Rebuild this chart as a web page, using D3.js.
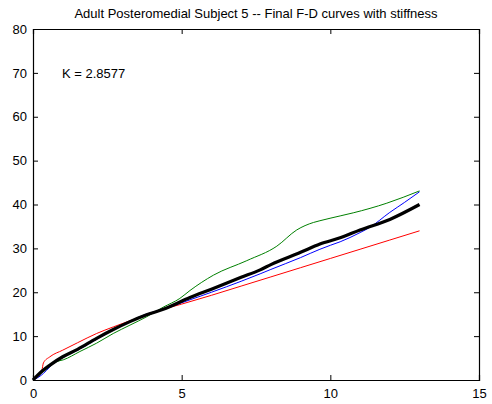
<!DOCTYPE html>
<html>
<head>
<meta charset="utf-8">
<script src="https://cdnjs.cloudflare.com/ajax/libs/d3/7.8.5/d3.min.js"></script>
<style>
  body { margin: 0; background: #fff; }
  text { font-family: "Liberation Sans", Arial, sans-serif; }
</style>
</head>
<body>
<svg id="chart"></svg>
<script>
// displacement / force readings
var redX   = [0, 0.3, 0.35, 0.57, 1.0, 1.5, 2.14, 2.7, 3.26, 3.8, 4.38, 5, 6, 7, 8, 9, 10, 11, 12, 13];
var redY   = [0, 2.3, 3.9, 5.3, 6.8, 8.5, 10.6, 12.1, 13.5, 14.8, 16.1, 17.3, 19.3, 21.4, 23.5, 25.6, 27.7, 29.8, 31.9, 34.0];

var blueX  = [0, 0.2, 0.35, 0.57, 0.8, 1.0, 1.5, 2.14, 3.26, 3.8, 4.38, 5, 6, 7, 7.64, 8, 9, 9.65, 10, 10.33, 11, 11.33, 12, 12.5, 13];
var blueY  = [0, 0.7, 1.5, 3.0, 4.6, 5.2, 6.8, 9.3, 13.4, 15.0, 16.1, 17.6, 20.0, 22.5, 24.2, 25.2, 27.9, 29.8, 30.7, 31.5, 33.6, 34.8, 38.2, 40.5, 42.9];

var greenX = [0, 0.35, 0.8, 1.02, 1.58, 2.14, 2.7, 3.26, 3.82, 4.38, 4.94, 5.28, 6.07, 7.19, 8.2, 8.87, 9.43, 9.65, 10.33, 10.77, 11.9, 13];
var greenY = [0, 1.9, 4.2, 4.6, 6.5, 8.4, 10.6, 12.5, 14.4, 16.6, 18.6, 20.4, 23.9, 27.2, 30.5, 34.2, 35.9, 36.3, 37.4, 38.1, 40.3, 43.1];

var blackX = [0, 0.3, 0.57, 1.0, 1.5, 2.14, 2.7, 3.26, 3.8, 4.38, 5.28, 6, 7, 7.64, 8, 9, 9.65, 10.33, 11, 12, 13];
var blackY = [0, 2.0, 3.4, 5.3, 7.0, 9.5, 11.5, 13.3, 14.8, 16.1, 18.8, 20.7, 23.4, 25.1, 26.3, 29.1, 31.0, 32.4, 34.2, 36.6, 40.0];

var xTicks = [0, 5, 10, 15];
var yTicks = [0, 10, 20, 30, 40, 50, 60, 70, 80];
var titleText = "Adult Posteromedial Subject 5 -- Final F-D curves with stiffness";
var kText = "K = 2.8577";

var width = 492;
var height = 404;
var padLeft = 33, padRight = 479, padTop = 29, padBottom = 380;

var svg = d3.select("#chart")
    .attr('width', width)
    .attr('height', height);

var xScale = d3.scaleLinear().domain([0, 15]).range([padLeft, padRight]);
var yScale = d3.scaleLinear().domain([0, 80]).range([padBottom, padTop]);

function pairs(xs, ys) {
    return xs.map(function(x, i) { return {x: x, y: ys[i]}; });
}

var line = d3.line()
    .x(function(d){ return xScale(d.x) })
    .y(function(d){ return yScale(d.y) })
    .curve(d3.curveMonotoneX);

// axes, ticks point inward, box all round
function draw_axes() {
    svg.append('g')
        .attr('transform', 'translate(0,' + padBottom + ')')
        .call(d3.axisBottom(xScale).tickValues(xTicks).tickSize(-5).tickPadding(9).tickFormat(d3.format('d')));
    svg.append('g')
        .attr('transform', 'translate(0,' + padTop + ')')
        .call(d3.axisTop(xScale).tickValues(xTicks).tickSize(-5).tickFormat(''));
    svg.append('g')
        .attr('transform', 'translate(' + padLeft + ',0)')
        .call(d3.axisLeft(yScale).tickValues(yTicks).tickSize(-5).tickPadding(6).tickFormat(d3.format('d')));
    svg.append('g')
        .attr('transform', 'translate(' + padRight + ',0)')
        .call(d3.axisRight(yScale).tickValues(yTicks).tickSize(-5).tickFormat(''));

    svg.selectAll('.domain').attr('stroke', '#000').attr('stroke-width', 1.2);
    svg.selectAll('.tick line').attr('stroke', '#000');
    svg.selectAll('.tick text')
        .attr('fill', '#000')
        .style('font-size', '13px')
        .style('font-family', '"Liberation Sans", Arial, sans-serif');
}

function draw_curve(xs, ys, color, w) {
    svg.append('path')
        .attr('d', line(pairs(xs, ys)))
        .attr('fill', 'none')
        .attr('stroke', color)
        .attr('stroke-width', w)
        .attr('stroke-linejoin', 'round');
}

draw_curve(redX, redY, '#ff0000', 1);
draw_curve(blueX, blueY, '#0000ff', 1);
draw_curve(greenX, greenY, '#008000', 1);
draw_curve(blackX, blackY, '#000000', 3.2);
draw_axes();

svg.append('text')
    .attr('x', (padLeft + padRight) / 2)
    .attr('y', 18)
    .attr('text-anchor', 'middle')
    .style('font-size', '13px')
    .text(titleText);

svg.append('text')
    .attr('x', 62)
    .attr('y', 78)
    .style('font-size', '13px')
    .text(kText);
</script>
</body>
</html>
